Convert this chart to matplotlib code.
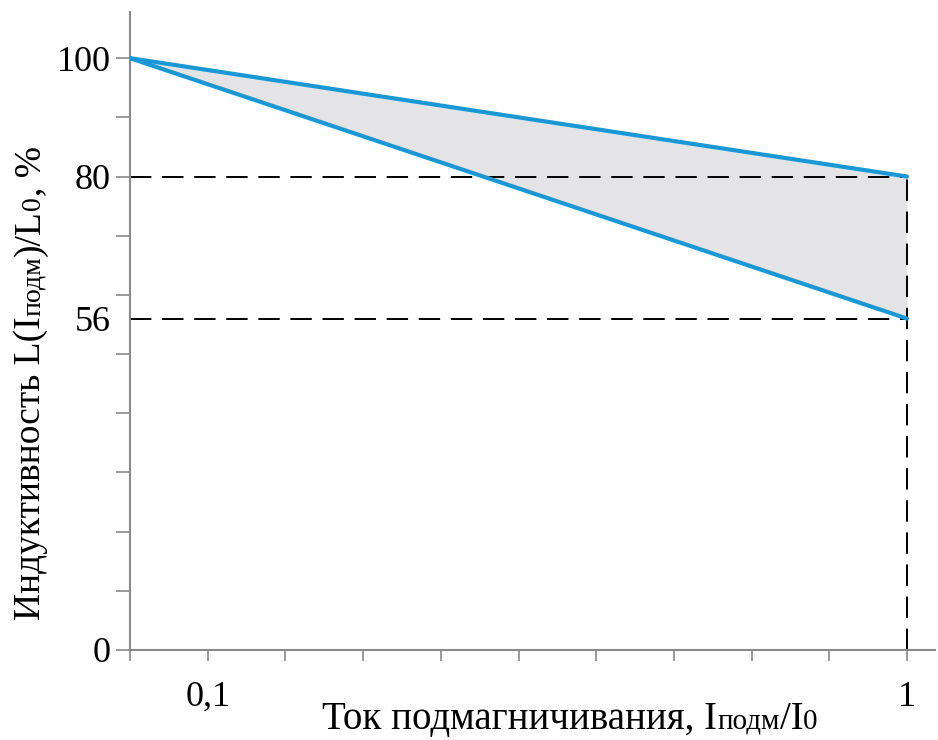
import numpy as np
import matplotlib
matplotlib.use('Agg')
from matplotlib import pyplot as plt

plt.rcParams['font.family'] = ['Liberation Serif', 'DejaVu Serif']

# data
x_pts = [0.0, 1.0]
upper = [100, 80]     # верхняя граница
lower = [100, 56]     # нижняя граница
x_ticks = np.round(np.arange(0, 1.01, 0.1), 1)
x_labels = ['' for _ in x_ticks]
x_labels[1] = '0,1'
x_labels[-1] = '1'
y_ticks = list(range(0, 101, 10))
y_labels = ['0', '', '', '', '', '', '', '', '80', '', '100']
y_mark = 56

blue = '#1a98d5'
spine_c = '#8a8a8a'

fig = plt.figure(figsize=(9.38, 7.4), dpi=100)
W, H = 938, 740
ax = fig.add_axes([130 / W, (740 - 650) / H, (935 - 130) / W, (650 - 12) / H])

ax.fill_between(x_pts, lower, upper, color='#e4e4e6', lw=0, zorder=1)
ax.plot(x_pts, upper, color=blue, lw=3, zorder=3, solid_capstyle='round')
ax.plot(x_pts, lower, color=blue, lw=3, zorder=3, solid_capstyle='round')

# штриховые линии
for yv in (upper[-1], lower[-1]):
    ax.plot([0, x_pts[-1]], [yv, yv], color='k', lw=1.4, dashes=(11, 5.5), zorder=2)
ax.plot([x_pts[-1], x_pts[-1]], [0, upper[-1]], color='k', lw=1.4, dashes=(11, 5.5), zorder=2)

ax.set_xlim(0, 1.036)
ax.set_ylim(0, 107.8)
for s in ('top', 'right'):
    ax.spines[s].set_visible(False)
for s in ('left', 'bottom'):
    ax.spines[s].set_color(spine_c)
    ax.spines[s].set_linewidth(1.5)

ax.set_xticks(x_ticks, x_labels)
ax.set_yticks(y_ticks, y_labels)
ax.set_yticks([y_mark], [str(y_mark)], minor=True)
ax.tick_params(axis='both', which='major', color=spine_c, width=1.2, length=10,
               labelsize=26, labelcolor='k')
ax.tick_params(axis='x', which='major', length=8, pad=14)
ax.tick_params(axis='y', which='major', pad=4)
ax.tick_params(axis='y', which='minor', length=0, labelsize=26, pad=14)

fig.canvas.draw()
rend = fig.canvas.get_renderer()

# подписи осей из кусков (подстрочные буквы мельче)
big, small = 28, 21
xparts = [('Ток подмагничивания, I', big), ('подм', small), ('/I', big), ('0', small)]
yparts = [('Индуктивность L(I', 27), ('подм', 20), (')/L', 27), ('0', 20), (', %', 27)]


def place(parts, x0, y0, rot):
    texts = []
    cx, cy = x0, y0
    for s, fs in parts:
        t = fig.text(cx / W, cy / H, s, fontsize=fs, rotation=rot, rotation_mode='anchor',
                     ha='left', va='baseline')
        bb = t.get_window_extent(rend)
        if rot == 0:
            cx = bb.x1
        else:
            cy = bb.y1
        texts.append(t)
    return texts


xt = place(xparts, 0, 0, 0)
tot = xt[-1].get_window_extent(rend).x1 - xt[0].get_window_extent(rend).x0
for t in xt:
    t.remove()
place(xparts, 570 - tot / 2, 740 - 729, 0)

yt = place(yparts, 0, 0, 90)
tot = yt[-1].get_window_extent(rend).y1 - yt[0].get_window_extent(rend).y0
for t in yt:
    t.remove()
place(yparts, 40, (740 - 383) - tot / 2, 90)

fig.savefig('out.png', dpi=100)
